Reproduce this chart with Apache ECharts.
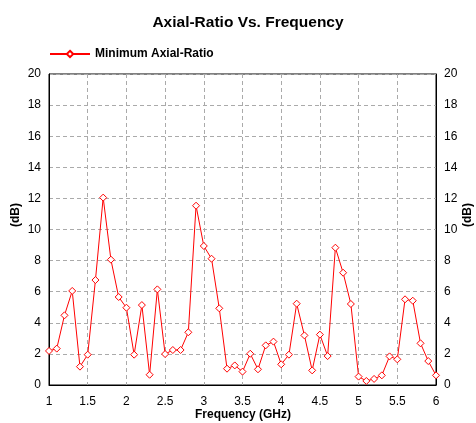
<!DOCTYPE html>
<html><head><meta charset="utf-8">
<script src="https://cdn.jsdelivr.net/npm/echarts@6/dist/echarts.min.js"></script>
<style>html,body{margin:0;padding:0;background:#fff}#c{width:476px;height:423px}</style>
</head><body><div id="c"></div>
<script>
const frequencies = [1.0,1.1,1.2,1.3,1.4,1.5,1.6,1.7,1.8,1.9,2.0,2.1,2.2,2.3,2.4,2.5,2.6,2.7,2.8,2.9,3.0,3.1,3.2,3.3,3.4,3.5,3.6,3.7,3.8,3.9,4.0,4.1,4.2,4.3,4.4,4.5,4.6,4.7,4.8,4.9,5.0,5.1,5.2,5.3,5.4,5.5,5.6,5.7,5.8,5.9,6.0];
const axialRatio = [2.19,2.34,4.48,6.05,1.18,1.95,6.75,12.05,8.06,5.66,4.97,1.95,5.14,0.66,6.15,1.99,2.25,2.25,3.39,11.53,8.94,8.12,4.93,1.05,1.26,0.86,2.01,1.01,2.55,2.79,1.33,1.95,5.23,3.19,0.94,3.24,1.86,8.83,7.22,5.21,0.54,0.26,0.39,0.62,1.84,1.65,5.51,5.42,2.68,1.54,0.62];
const seriesName = 'Minimum Axial-Ratio';
const yAxisTitle = '(dB)';

const chart = echarts.init(document.getElementById('c'));
const font = 'Liberation Sans, Arial, sans-serif';
const yAxisCommon = {
  type: 'value', min: 0, max: 20, interval: 2,
  axisLine: {show: true, lineStyle: {color: '#000', width: 1}},
  axisTick: {show: false},
  axisLabel: {fontFamily: font, fontSize: 12, color: '#000', margin: 8},
};
const yTitleStyle = {text: yAxisTitle, fontFamily: font, fontWeight: 'bold', fontSize: 12, fill: '#000',
  textAlign: 'center', textVerticalAlign: 'middle'};
chart.setOption({
  animation: false,
  title: {text: 'Axial-Ratio Vs. Frequency', left: 243, textAlign: 'center', top: 10,
    textStyle: {fontFamily: font, fontWeight: 'bold', fontSize: 15.5, color: '#000'}},
  legend: {left: 44, top: 43, itemWidth: 40, itemHeight: 8, itemGap: 10,
    textStyle: {fontFamily: font, fontWeight: 'bold', fontSize: 12, color: '#000'},
    data: [seriesName]},
  grid: {left: 49, right: 40, top: 74, bottom: 38, show: true, borderColor: '#000', borderWidth: 1,
    containLabel: false, outerBoundsMode: 'none'},
  graphic: [
    {type: 'text', x: 16, y: 215, rotation: Math.PI / 2, style: yTitleStyle},
    {type: 'text', x: 468, y: 215, rotation: Math.PI / 2, style: yTitleStyle},
    {type: 'text', x: 243, y: 415, style: {text: 'Frequency (GHz)', fontFamily: font, fontWeight: 'bold',
      fontSize: 12, fill: '#000', textAlign: 'center', textVerticalAlign: 'middle'}}
  ],
  xAxis: {type: 'value', min: 1, max: 6, interval: 0.5,
    axisLine: {show: true, onZero: false, lineStyle: {color: '#000'}},
    axisTick: {show: false},
    axisLabel: {fontFamily: font, fontSize: 12, color: '#000', margin: 11},
    splitLine: {show: true, lineStyle: {color: '#aaa', type: [4, 3]}}},
  yAxis: [
    Object.assign({}, yAxisCommon, {position: 'left',
      splitLine: {show: true, lineStyle: {color: '#aaa', type: [4, 3]}}}),
    Object.assign({}, yAxisCommon, {position: 'right', splitLine: {show: false}})
  ],
  series: [{
    name: seriesName, type: 'line',
    data: frequencies.map((f, i) => [f, axialRatio[i]]),
    symbol: 'diamond', symbolSize: 7, showAllSymbol: true,
    lineStyle: {color: '#ff0000', width: 1},
    itemStyle: {color: '#fff', borderColor: '#ff0000', borderWidth: 1}
  }]
});
</script></body></html>
